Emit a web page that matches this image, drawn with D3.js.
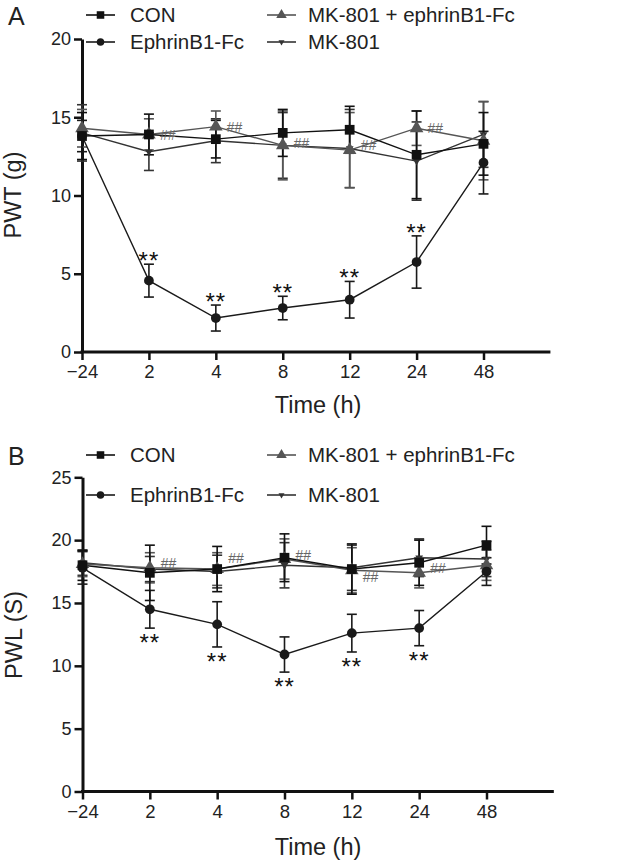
<!DOCTYPE html>
<html><head><meta charset="utf-8">
<script src="https://cdn.jsdelivr.net/npm/d3@7"></script>
<style>
body{margin:0;background:#fff;}
svg{display:block;font-family:"Liberation Sans",Arial,sans-serif;}
</style>
</head><body>
<svg id="c" width="634" height="862"></svg>
<script>
// ---------- DATA ----------
const times = ["\u221224","2","4","8","12","24","48"];
const seriesNames = ["CON","EphrinB1-Fc","MK-801 + ephrinB1-Fc","MK-801"];

// Panel A: PWT (g)
const pwtCON      = [13.8, 13.9, 13.6, 14.0, 14.2, 12.6, 13.3];
const pwtCONErr   = [1.5, 1.3, 1.2, 1.5, 1.5, 2.8, 2.0];
const pwtEph      = [13.8, 4.56, 2.17, 2.81, 3.34, 5.75, 12.1];
const pwtEphErr   = [1.0, 1.05, 0.83, 0.75, 1.17, 1.67, 2.0];
const pwtMKEph    = [14.3, 13.9, 14.4, 13.2, 12.9, 14.3, 13.5];
const pwtMKEphErr = [1.2, 1.0, 1.0, 2.2, 2.4, 1.1, 2.5];
const pwtMK       = [14.0, 12.8, 13.5, 13.2, 13.0, 12.2, 13.9];
const pwtMKErr    = [1.8, 1.2, 1.4, 2.1, 2.5, 2.5, 2.1];
const pwtStars    = [false, true, true, true, true, true, false];
const pwtHash     = [null, 13.9, 14.4, 13.35, 13.25, 14.3, null];
const pwtTicks    = [0, 5, 10, 15, 20];

// Panel B: PWL (S)
const pwlCON      = [18.0, 17.4, 17.7, 18.6, 17.7, 18.2, 19.6];
const pwlCONErr   = [1.2, 2.2, 1.8, 1.9, 2.0, 1.8, 1.5];
const pwlEph      = [17.8, 14.5, 13.3, 10.9, 12.6, 13.0, 17.5];
const pwlEphErr   = [1.3, 1.5, 1.8, 1.4, 1.5, 1.4, 1.1];
const pwlMKEph    = [18.1, 17.8, 17.7, 18.5, 17.6, 17.4, 18.0];
const pwlMKEphErr = [1.0, 1.2, 1.3, 1.6, 1.8, 1.2, 1.2];
const pwlMK       = [18.2, 17.7, 17.5, 18.0, 17.8, 18.6, 18.5];
const pwlMKErr    = [1.0, 1.0, 1.3, 1.8, 1.8, 1.5, 1.4];
const pwlStars    = [false, true, true, true, true, true, false];
const pwlHash     = [null, 18.15, 18.55, 18.8, 17.05, 17.75, null];
const pwlTicks    = [0, 5, 10, 15, 20, 25];

// ---------- STYLE ----------
const colors = ["#111", "#1a1a1a", "#555", "#333"];
const invTri = {draw(ctx, size){ const s = Math.sqrt(size)/Math.sqrt(3)*1.5; 
  const h = s*Math.sqrt(3)/2; ctx.moveTo(0, h*2/3); ctx.lineTo(s/2, -h/3); ctx.lineTo(-s/2, -h/3); ctx.closePath(); }};
const symbols = [d3.symbolSquare, d3.symbolCircle, d3.symbolTriangle, invTri];
const symSize = [95, 75, 80, 80];
const FONT = '"Liberation Sans",Arial,sans-serif';

const svg = d3.select("#c");

function panel(cfg){
  const g = svg.append("g");
  const x = d3.scalePoint().domain(times).range([cfg.x0, cfg.x1]);
  const y = d3.scaleLinear().domain([0, cfg.ymax]).range([cfg.yb, cfg.yt]);

  // panel letter
  g.append("text").attr("x", 8).attr("y", cfg.letterY).attr("font-size", 25)
    .attr("fill","#222").text(cfg.letter);

  // legend
  const legPos = [[0,0],[1,0],[0,1],[1,1]]; // [row,col] for series order
  seriesNames.forEach((name,i)=>{
    const [r,c] = legPos[i];
    const ly = cfg.legY[r];
    const lx0 = c===0 ? 86 : 267, lx1 = c===0 ? 115 : 296;
    const lg = g.append("g");
    lg.append("line").attr("x1",lx0).attr("x2",lx1).attr("y1",ly).attr("y2",ly)
      .attr("stroke",colors[i]).attr("stroke-width",1.6);
    lg.append("path").attr("d", d3.symbol(symbols[i], symSize[i]*0.6)())
      .attr("transform",`translate(${(lx0+lx1)/2},${ly})`).attr("fill",colors[i]);
    lg.append("text").attr("x", c===0 ? 130 : 308).attr("y", ly).attr("dy","0.36em")
      .attr("font-size",20.5).attr("fill","#222").text(name);
  });

  // axes
  const ya = g.append("g").attr("transform",`translate(${cfg.x0},0)`)
    .call(d3.axisLeft(y).tickValues(cfg.ticks).tickSize(8).tickPadding(3).tickSizeOuter(0));
  ya.select(".domain").attr("stroke-width",3).attr("stroke","#111");
  ya.selectAll(".tick line").attr("stroke-width",2.5).attr("stroke","#111");
  ya.selectAll(".tick text").attr("font-size",18).attr("font-family",FONT).attr("fill","#222");

  const xa = g.append("g").attr("transform",`translate(0,${cfg.yb})`)
    .call(d3.axisBottom(x).tickSize(8).tickPadding(5).tickSizeOuter(0));
  xa.select(".domain").remove();
  xa.append("line").attr("x1", cfg.x0 - 1.5).attr("x2", x(times[times.length-1]) + x.step())
    .attr("stroke","#111").attr("stroke-width",3);
  xa.selectAll(".tick line").attr("stroke-width",2.5).attr("stroke","#111");
  xa.selectAll(".tick text").attr("font-size",18.5).attr("font-family",FONT).attr("fill","#222");

  // axis titles
  g.append("text").attr("transform",`translate(${cfg.ylabX},${cfg.ylabY}) rotate(-90)`)
    .attr("text-anchor","middle").attr("dy","0.35em").attr("font-size",23.5).attr("fill","#222")
    .text(cfg.ylabel);
  g.append("text").attr("x", 318).attr("y", cfg.xlabY).attr("dy","0.35em")
    .attr("text-anchor","middle").attr("font-size",23.5).attr("fill","#222").text("Time (h)");

  // series: error bars, lines, markers
  const drawOrder = [3,2,1,0];
  drawOrder.forEach(i=>{
    const vals = cfg.series[i], errs = cfg.errs[i];
    const eg = g.append("g").attr("stroke",colors[i]).attr("stroke-width",1.6);
    times.forEach((t,k)=>{
      const cx = x(t);
      eg.append("line").attr("x1",cx).attr("x2",cx).attr("y1",y(vals[k]-errs[k])).attr("y2",y(vals[k]+errs[k]));
      [vals[k]-errs[k], vals[k]+errs[k]].forEach(v=>{
        eg.append("line").attr("x1",cx-5).attr("x2",cx+5).attr("y1",y(v)).attr("y2",y(v));
      });
    });
    g.append("path").datum(vals)
      .attr("d", d3.line().x((d,k)=>x(times[k])).y(d=>y(d)))
      .attr("fill","none").attr("stroke",colors[i]).attr("stroke-width",1.4);
  });
  drawOrder.forEach(i=>{
    const vals = cfg.series[i];
    g.append("g").selectAll("path").data(vals).join("path")
      .attr("d", d3.symbol(symbols[i], symSize[i])())
      .attr("transform",(d,k)=>`translate(${x(times[k])},${y(d)})`)
      .attr("fill",colors[i]);
  });

  // significance marks
  times.forEach((t,k)=>{
    if(cfg.stars[k]){
      const e = cfg.series[1][k], er = cfg.errs[1][k];
      const cy = cfg.starsAbove ? y(e+er) - 7 : y(e-er) + 11;
      g.append("text").attr("x", x(t)).attr("y", cy + 12).attr("text-anchor","middle")
        .attr("font-size",24).attr("letter-spacing","1px").attr("fill","#111").text("**");
    }
    if(cfg.hash[k] !== null){
      g.append("text").attr("x", x(t)+11).attr("y", y(cfg.hash[k])).attr("dy","0.36em")
        .attr("font-size",14).attr("fill","#666").text("##");
    }
  });
}

panel({
  letter:"A", letterY:25, legY:[15,42],
  x0:82, x1:483.5, yb:352, yt:39, ymax:20, ticks:pwtTicks,
  ylabel:"PWT (g)", ylabX:13, ylabY:195, xlabY:405,
  series:[pwtCON, pwtEph, pwtMKEph, pwtMK],
  errs:[pwtCONErr, pwtEphErr, pwtMKEphErr, pwtMKErr],
  stars:pwtStars, starsAbove:true, hash:pwtHash
});
panel({
  letter:"B", letterY:465, legY:[455,495],
  x0:82.5, x1:486.5, yb:791.5, yt:477.3, ymax:25, ticks:pwlTicks,
  ylabel:"PWL (S)", ylabX:14, ylabY:635, xlabY:847,
  series:[pwlCON, pwlEph, pwlMKEph, pwlMK],
  errs:[pwlCONErr, pwlEphErr, pwlMKEphErr, pwlMKErr],
  stars:pwlStars, starsAbove:false, hash:pwlHash
});
</script>
</body></html>
